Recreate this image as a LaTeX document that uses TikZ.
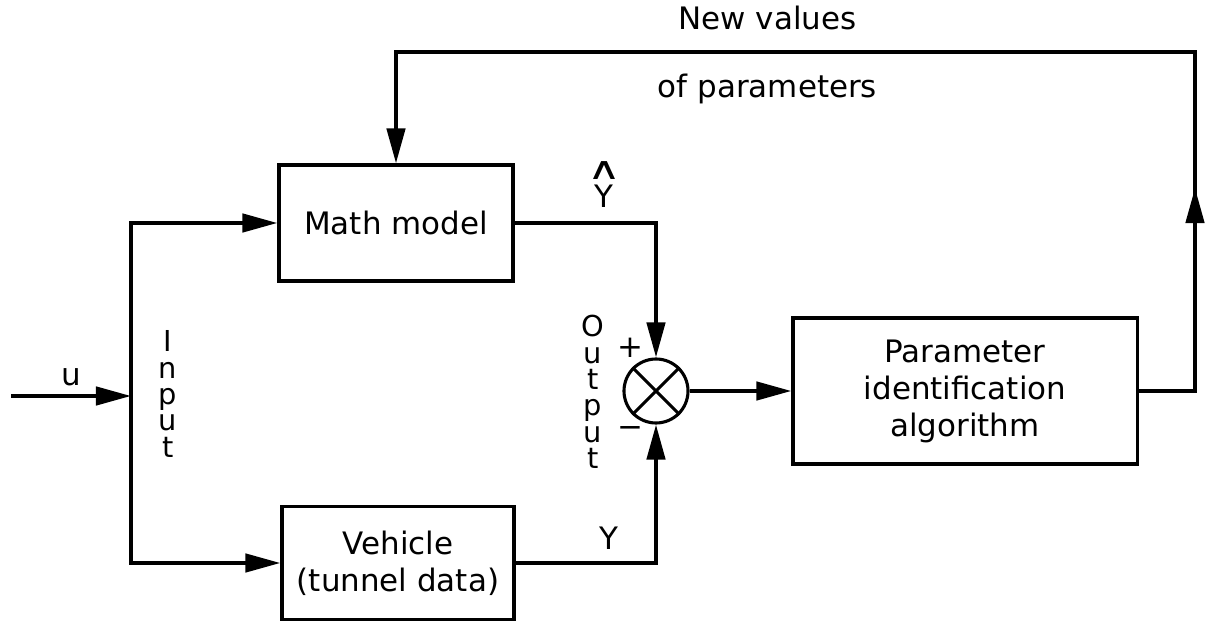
\documentclass[tikz,border=0pt]{standalone}
\usepackage{fontspec}
\setmainfont{DejaVu Sans}
\usetikzlibrary{positioning,arrows.meta,calc}
\tikzset{
  >={Triangle[length=25pt,width=13pt]},
  every node/.style={font=\fontsize{22}{26.3}\selectfont},
  % --- nodes
  blk/.style  = {draw, line width=2.2pt, align=center, inner sep=0pt},
  sumj/.style = {draw, circle, line width=2.2pt, minimum size=1.6cm, inner sep=0pt},
  lbl/.style  = {inner sep=0pt},
  vert/.style = {lbl, align=center, font=\fontsize{20.5}{18.8}\selectfont},
  % --- edges
  e/.style    = {->, line width=2.8pt},
}

\begin{document}
\begin{tikzpicture}[x=0.025cm, y=-0.025cm]
  \useasboundingbox (0,0) rectangle (1205,622);

  \node[blk, minimum width=5.85cm, minimum height=2.9cm] (math) at (396,223) {Math model};
  \node[blk, minimum width=5.8cm, minimum height=2.83cm] (veh) at (398,563) {Vehicle\\(tunnel data)};
  \node[sumj] (sum) at (656,391) {};
  \draw[line width=2.2pt] (sum.45) -- (sum.225) (sum.135) -- (sum.315);
  \node[blk, minimum width=8.6cm, minimum height=3.65cm] (pia) at (965,391) {Parameter\\identification\\algorithm};

  % input side
  \coordinate (src) at (11,396);
  \coordinate (bus) at (131,396);
  \draw[e] (src) -- node[lbl, above=6pt] (ulbl) {u} (bus);
  \draw[e] (bus) |- (math.west);
  \draw[e] (bus) |- (veh.west);
  \node[vert] (inlbl) at (168,394) {I\\n\\p\\u\\t};

  % outputs into the junction
  \draw[e] (math.east) -| (sum.north);
  \draw[e] (veh.east) -| (sum.south);
  \node[lbl, anchor=base] (yhat) at (604,208) {Y};
  \node[lbl, anchor=base, xscale=1.5, font=\fontsize{22}{22}\selectfont] (hatmark) at (604,180) {∧};
  \node[lbl, anchor=base] (ylbl) at (609,550) {Y};
  \node[lbl] (plus) at (630,348) {+};
  \node[lbl] (minus) at (630,432) {−};
  \node[vert] (outlbl) at (593,392) {O\\u\\t\\p\\u\\t};

  \draw[e] (sum.east) -- (pia.west);

  % feedback of parameters
  \coordinate (upr) at (1195,188);
  \coordinate (topr) at (1195,52);
  \draw[e] (pia.east) -| (upr);
  \draw[e] ($(upr)+(0,20)$) -- (topr)
        -- node[lbl, pos=0.535, above=14pt] (nv) {New values}
           node[lbl, pos=0.535, below=14pt] (op) {of parameters}
        (math.north |- topr) -- (math.north);
\end{tikzpicture}
\end{document}
